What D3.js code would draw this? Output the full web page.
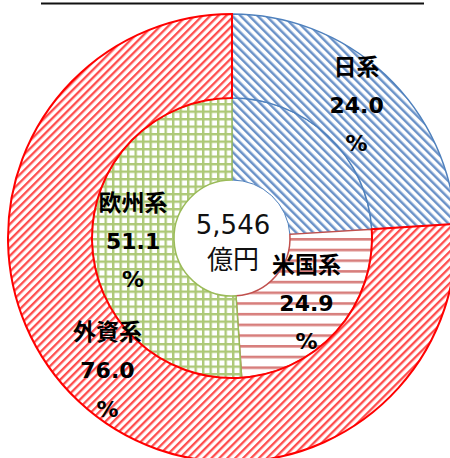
<!DOCTYPE html>
<html>
<head>
<meta charset="utf-8">
<script src="https://cdn.jsdelivr.net/npm/d3@7/dist/d3.min.js"></script>
<style>
  html, body { margin: 0; padding: 0; background: #fff; }
  svg { display: block; }
</style>
</head>
<body>
<svg id="chart" width="450" height="458"></svg>
<script>
// Outer ring: 日系 vs 外資系 (share of total, %)
const outerCategories = ["日系", "外資系"];
const outerValues = [24.0, 76.0];

// Inner ring: 日系 / 米国系 / 欧州系 (share of total, %)
const innerCategories = ["日系", "米国系", "欧州系"];
const innerValues = [24.0, 24.9, 51.1];

// Total shown in the middle
const totalLabel = ["5,546", "億円"];

const W = 450, H = 458;
const cx = 232, cy = 238;
const rHole = 58, rMid = 140, rOuter = 224;

const svg = d3.select("#chart");
const defs = svg.append("defs");

// Hatch pattern helpers
function diagPattern(id, color, angle, spacing, lineW) {
  const p = defs.append("pattern")
    .attr("id", id)
    .attr("patternUnits", "userSpaceOnUse")
    .attr("width", spacing).attr("height", spacing)
    .attr("patternTransform", `rotate(${angle})`);
  p.append("rect").attr("width", spacing).attr("height", spacing).attr("fill", "#fff");
  p.append("rect").attr("x", 0).attr("y", 0)
    .attr("width", lineW).attr("height", spacing)
    .attr("fill", color);
  return `url(#${id})`;
}
function horizPattern(id, color, spacing, lineW) {
  const p = defs.append("pattern")
    .attr("id", id)
    .attr("patternUnits", "userSpaceOnUse")
    .attr("width", spacing).attr("height", spacing);
  p.append("rect").attr("width", spacing).attr("height", spacing).attr("fill", "#fff");
  p.append("rect").attr("x", 0).attr("y", 0)
    .attr("width", spacing).attr("height", lineW)
    .attr("fill", color);
  return `url(#${id})`;
}
function gridPattern(id, color, spacing, lineW) {
  const p = defs.append("pattern")
    .attr("id", id)
    .attr("patternUnits", "userSpaceOnUse")
    .attr("width", spacing).attr("height", spacing);
  p.append("rect").attr("width", spacing).attr("height", spacing).attr("fill", "#fff");
  p.append("rect").attr("x", 0).attr("y", 0)
    .attr("width", spacing).attr("height", lineW).attr("fill", color);
  p.append("rect").attr("x", 0).attr("y", 0)
    .attr("width", lineW).attr("height", spacing).attr("fill", color);
  return `url(#${id})`;
}

const fillBlue = diagPattern("hatch-blue", "#6a92c8", -45, 6, 2.5);
const fillRedDiag = diagPattern("hatch-red", "#ff4d4d", 45, 5.6, 2.3);
const fillRedHoriz = horizPattern("stripe-red", "#d77e7c", 10.7, 2.6);
const fillGreen = gridPattern("grid-green", "#adc977", 7.5, 2.4);

const outerStyle = {
  "日系": { fill: fillBlue, stroke: "#4f81bd", sw: 1.5 },
  "外資系": { fill: fillRedDiag, stroke: "#ff0000", sw: 2 }
};
const innerStyle = {
  "日系": { fill: fillBlue, stroke: "#4f81bd", sw: 1 },
  "米国系": { fill: fillRedHoriz, stroke: "#c0504d", sw: 1.5 },
  "欧州系": { fill: fillGreen, stroke: "#9bbb59", sw: 1.5 }
};

const pie = d3.pie().sort(null).value(d => d.value).startAngle(0).endAngle(2 * Math.PI);

const innerData = pie(innerCategories.map((c, i) => ({ name: c, value: innerValues[i] })));
const outerData = pie(outerCategories.map((c, i) => ({ name: c, value: outerValues[i] })));

const innerArc = d3.arc().innerRadius(rHole).outerRadius(rMid);
const outerArc = d3.arc().innerRadius(rMid).outerRadius(rOuter);

const g = svg.append("g").attr("transform", `translate(${cx},${cy})`);

// Inner ring first, outer ring drawn over it
g.append("g").selectAll("path").data(innerData).join("path")
  .attr("d", innerArc)
  .attr("fill", d => innerStyle[d.data.name].fill)
  .attr("stroke", d => innerStyle[d.data.name].stroke)
  .attr("stroke-width", d => innerStyle[d.data.name].sw);

g.append("g").selectAll("path").data(outerData).join("path")
  .attr("d", outerArc)
  .attr("fill", d => outerStyle[d.data.name].fill)
  .attr("stroke", d => outerStyle[d.data.name].stroke)
  .attr("stroke-width", d => outerStyle[d.data.name].sw);

// Slice labels: name / value / %
const fontStack = "'DejaVu Sans', 'Noto Sans CJK JP', sans-serif";
const lineGap = 38.5;

function drawLabel(arc, d) {
  const [x, y] = arc.centroid(d);
  const lines = [d.data.name, d.data.value.toFixed(1), "%"];
  const t = g.append("g").attr("transform", `translate(${x},${y})`);
  lines.forEach((s, i) => {
    t.append("text")
      .attr("x", 0)
      .attr("y", (i - 1) * lineGap)
      .attr("text-anchor", "middle")
      .attr("dominant-baseline", "central")
      .attr("font-family", fontStack)
      .attr("font-weight", "bold")
      .attr("font-size", i === 0 ? 23 : 22)
      .attr("fill", "#000")
      .text(s);
  });
}

outerData.forEach(d => drawLabel(outerArc, d));
innerData.filter(d => d.data.name !== "日系").forEach(d => drawLabel(innerArc, d));

// Total in the hole
g.append("text")
  .attr("x", 1).attr("y", -13)
  .attr("text-anchor", "middle")
  .attr("dominant-baseline", "central")
  .attr("font-family", fontStack)
  .attr("font-size", 26)
  .attr("fill", "#111")
  .text(totalLabel[0]);
g.append("text")
  .attr("x", 1).attr("y", 22)
  .attr("text-anchor", "middle")
  .attr("dominant-baseline", "central")
  .attr("font-family", fontStack)
  .attr("font-size", 26)
  .attr("fill", "#111")
  .text(totalLabel[1]);

// Title rule along the top edge
svg.append("line")
  .attr("x1", 41).attr("x2", 424)
  .attr("y1", 3.5).attr("y2", 3.5)
  .attr("stroke", "#111")
  .attr("stroke-width", 2);
</script>
</body>
</html>
